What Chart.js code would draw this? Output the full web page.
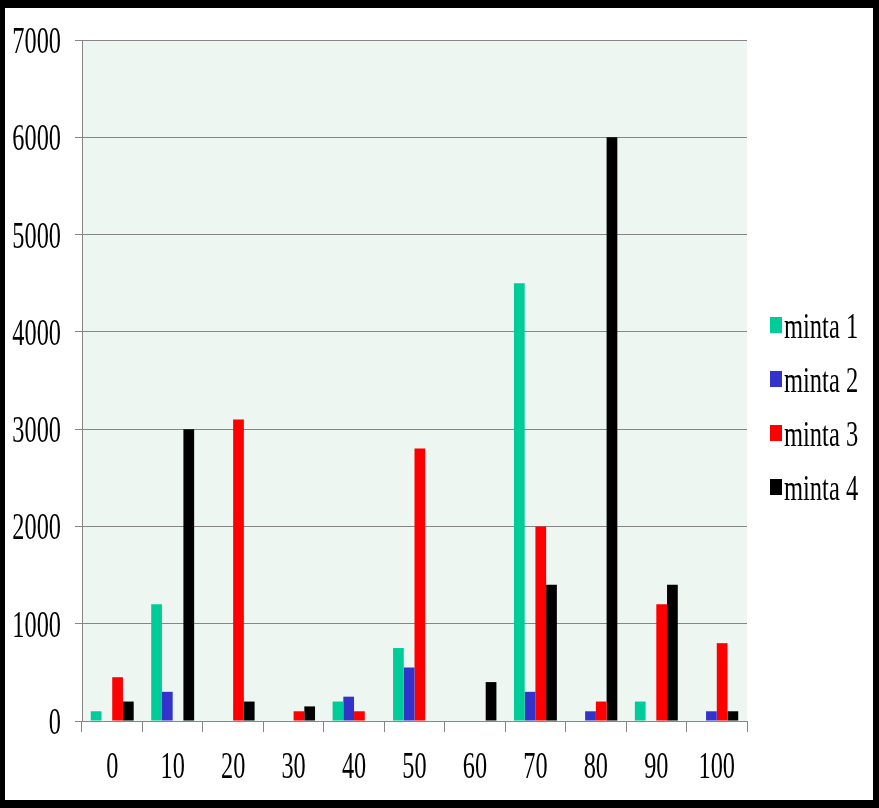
<!DOCTYPE html>
<html>
<head>
<meta charset="utf-8">
<script src="https://cdn.jsdelivr.net/npm/chart.js@4/dist/chart.umd.min.js"></script>
<style>
  html, body { margin: 0; padding: 0; background: #fff; }
  canvas { display: block; }
</style>
</head>
<body>
<canvas id="chart" width="879" height="808"></canvas>
<script>
const categories = ['0', '10', '20', '30', '40', '50', '60', '70', '80', '90', '100'];
const minta1 = [100, 1200, 0, 0, 200, 750, 0, 4500, 0, 200, 0];
const minta2 = [0, 300, 0, 0, 250, 550, 0, 300, 100, 0, 100];
const minta3 = [450, 0, 3100, 100, 100, 2800, 0, 2000, 200, 1200, 800];
const minta4 = [200, 3000, 200, 150, 0, 0, 400, 1400, 6000, 1400, 100];
const seriesNames = ['minta 1', 'minta 2', 'minta 3', 'minta 4'];
const seriesColors = ['#00CC99', '#3333CC', '#FF0000', '#000000'];
const yTicks = [0, 1000, 2000, 3000, 4000, 5000, 6000, 7000];

const gridColor = '#868686';
const fontFamily = '"Liberation Serif", "Times New Roman", serif';

// draws text squeezed horizontally, like the narrow Times labels of the original
function squeezed(ctx, text, x, y, size, sx, align) {
  ctx.save();
  ctx.translate(x, y);
  ctx.scale(sx, 1);
  ctx.font = size + 'px ' + fontFamily;
  ctx.textAlign = align;
  ctx.textBaseline = 'alphabetic';
  ctx.fillStyle = '#000';
  ctx.fillText(text, 0, 0);
  ctx.restore();
}

const framePlugin = {
  id: 'frame',
  beforeDraw(chart) {
    const ctx = chart.ctx;
    const a = chart.chartArea;
    ctx.save();
    ctx.fillStyle = '#000';
    ctx.fillRect(0, 0, chart.width, chart.height);
    ctx.fillStyle = '#fff';
    ctx.fillRect(5, 8, chart.width - 11, chart.height - 16);
    ctx.fillStyle = '#EDF6F1';
    ctx.fillRect(a.left, a.top, a.right - a.left, a.bottom - a.top);
    ctx.restore();
  },
  afterDraw(chart) {
    const ctx = chart.ctx;
    const xs = chart.scales.x;
    const ys = chart.scales.y;
    ys.ticks.forEach(t => {
      squeezed(ctx, String(t.value), ys.right - 21, ys.getPixelForValue(t.value) + 13, 38, 0.64, 'right');
    });
    xs.ticks.forEach((t, i) => {
      squeezed(ctx, chart.data.labels[i], xs.getPixelForTick(i), 778, 38, 0.64, 'center');
    });
    // legend
    chart.data.datasets.forEach((ds, i) => {
      const base = 338 + i * 54;
      ctx.fillStyle = ds.backgroundColor;
      ctx.fillRect(770, base - 21, 12, 16);
      squeezed(ctx, ds.label, 784, base, 35, 0.7, 'left');
    });
  }
};

new Chart(document.getElementById('chart'), {
  type: 'bar',
  data: {
    labels: categories,
    datasets: [minta1, minta2, minta3, minta4].map((d, i) => ({
      label: seriesNames[i],
      data: d,
      backgroundColor: seriesColors[i],
      borderWidth: 0,
      categoryPercentage: 0.71,
      barPercentage: 1.0
    }))
  },
  options: {
    responsive: false,
    animation: false,
    layout: { padding: { top: 40, right: 132, left: 0, bottom: 0 } },
    plugins: {
      legend: { display: false },
      tooltip: { enabled: false }
    },
    scales: {
      x: {
        grid: { display: true, offset: true, drawOnChartArea: false, tickLength: 11, color: gridColor },
        border: { display: true, color: gridColor },
        ticks: { color: 'rgba(0,0,0,0)', font: { size: 1 }, maxRotation: 0, autoSkip: false },
        afterFit(scale) { scale.height = 87; }
      },
      y: {
        min: 0,
        max: yTicks[yTicks.length - 1],
        afterBuildTicks(scale) { scale.ticks = yTicks.map(v => ({ value: v })); },
        grid: { color: gridColor, tickLength: 7 },
        border: { display: true, color: gridColor },
        ticks: { color: 'rgba(0,0,0,0)', font: { size: 1 } },
        afterFit(scale) { scale.width = 82; }
      }
    }
  },
  plugins: [framePlugin]
});
</script>
</body>
</html>
